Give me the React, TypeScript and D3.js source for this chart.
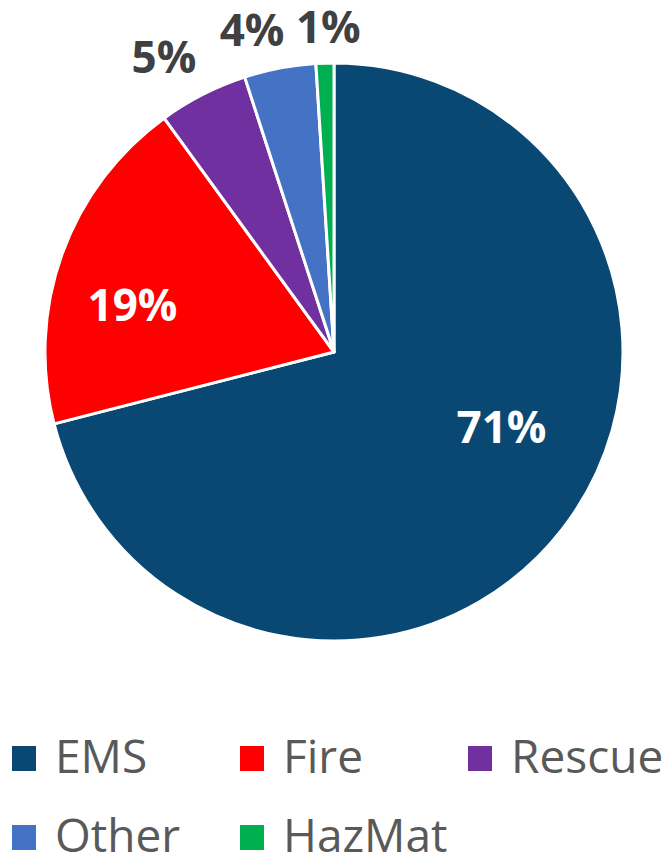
import React from "react";
import * as d3 from "d3";

const categories = ["EMS", "Fire", "Rescue", "Other", "HazMat"];
const values = [71, 19, 5, 4, 1];
const labels = ["71%", "19%", "5%", "4%", "1%"];
const colors = ["#084872", "#FF0000", "#7030A0", "#4472C4", "#00B050"];
// label placement: [angle in degrees clockwise from top, radius as fraction of pie radius]
const labelPolar: [number, number][] = [
  [114.1, 0.635],
  [283.1, 0.716],
  [330, 1.177],
  [345.7, 1.148],
  [359.0, 1.125],
];
const labelInside = [true, true, false, false, false];

const W = 665;
const H = 859;
const cx = 334;
const cy = 352;
const R = 289;

const legendRows = [
  [0, 1, 2],
  [3, 4],
];
const legendX = [[12, 240, 468], [12, 240]];
const legendBaseline = [773, 852];

export default function App() {
  const pie = d3.pie<number>().sort(null).value((d) => d)(values);
  const arc = d3.arc<d3.PieArcDatum<number>>().innerRadius(0).outerRadius(R);
  const font = "'Open Sans', sans-serif";
  return (
    <svg width={W} height={H} style={{ position: "absolute", left: 0, top: 0, background: "#fff" }}>
      <g transform={`translate(${cx},${cy})`}>
        {pie.map((p, i) => (
          <path key={i} d={arc(p) || ""} fill={colors[i]} stroke="#fff" strokeWidth={3} strokeLinejoin="round" />
        ))}
        {pie.map((p, i) => {
          const [a, f] = labelPolar[i];
          const rad = (a * Math.PI) / 180;
          const x = Math.sin(rad) * R * f;
          const y = -Math.cos(rad) * R * f;
          return (
            <text
              key={i}
              x={x}
              y={y}
              dy="0.357em"
              textAnchor="middle"
              fontFamily={font}
              fontWeight="bold"
              fontSize={44}
              fill={labelInside[i] ? "#fff" : "#404040"}
            >
              {labels[i]}
            </text>
          );
        })}
      </g>
      {legendRows.map((row, r) =>
        row.map((idx, k) => (
          <g key={idx} transform={`translate(${legendX[r][k]},${legendBaseline[r]})`}>
            <rect x={0} y={-27} width={24} height={25} fill={colors[idx]} />
            <text x={43} y={0} fontFamily={font} fontSize={46} fill="#595959">
              {categories[idx]}
            </text>
          </g>
        ))
      )}
    </svg>
  );
}
